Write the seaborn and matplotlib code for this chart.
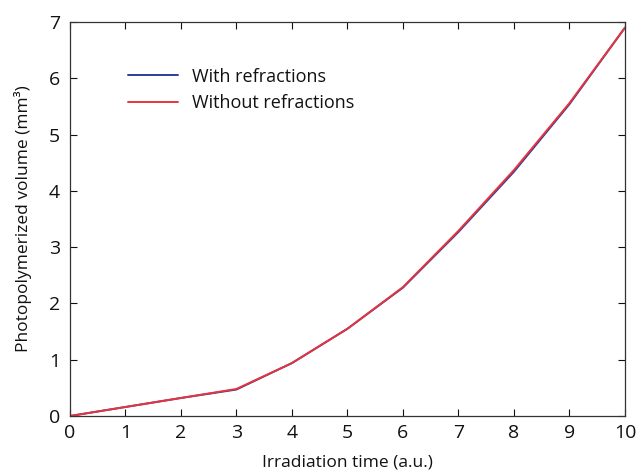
import matplotlib
matplotlib.use("Agg")
import matplotlib.pyplot as plt
import seaborn as sns
import pandas as pd

time = [0, 1, 2, 3, 4, 5, 6, 7, 8, 9, 10]
with_refr = [0.0, 0.16, 0.32, 0.47, 0.94, 1.55, 2.28, 3.27, 4.34, 5.54, 6.90]
without_refr = [0.0, 0.16, 0.32, 0.48, 0.94, 1.55, 2.29, 3.29, 4.37, 5.56, 6.90]
series_names = ["With refractions", "Without refractions"]
x_ticks = [0, 1, 2, 3, 4, 5, 6, 7, 8, 9, 10]
y_ticks = [0, 1, 2, 3, 4, 5, 6, 7]

df = pd.DataFrame({
    "time": time * 2,
    "vol": with_refr + without_refr,
    "series": [series_names[0]] * len(time) + [series_names[1]] * len(time),
})

sns.set_theme(style="ticks")
plt.rcParams['font.family'] = ['Open Sans', 'DejaVu Sans']

fig = plt.figure(figsize=(6.41, 4.73), dpi=100)
ax = fig.add_axes([0.109, 0.1205, 0.866, 0.833])
sns.lineplot(data=df, x="time", y="vol", hue="series",
             palette={series_names[0]: "#2b3f9c", series_names[1]: "#e8333c"},
             linewidth=1.4, ax=ax)

ax.set_xlim(0, 10)
ax.set_ylim(0, 7)
ax.set_xticks(x_ticks)
ax.set_yticks(y_ticks)
ax.tick_params(direction="in", top=True, right=True, length=5, width=0.8,
               labelsize=14, colors="#111111")
ax.tick_params(axis="x", pad=6)
ax.tick_params(axis="y", pad=7)
for s in ax.spines.values():
    s.set_linewidth(0.9)
    s.set_color("#333333")
ax.set_xlabel("Irradiation time (a.u.)", fontsize=12.5, labelpad=9, color="#111111")
ax.set_ylabel("Photopolymerized volume (mm³)", fontsize=12.5, labelpad=12, color="#111111")

leg = ax.legend(loc="upper left", bbox_to_anchor=(0.075, 0.925), frameon=False,
                fontsize=13, handlelength=2.8, handletextpad=0.75, labelspacing=0.45)
for t in leg.get_texts():
    t.set_color("#111111")

fig.savefig("out.png", dpi=100)
